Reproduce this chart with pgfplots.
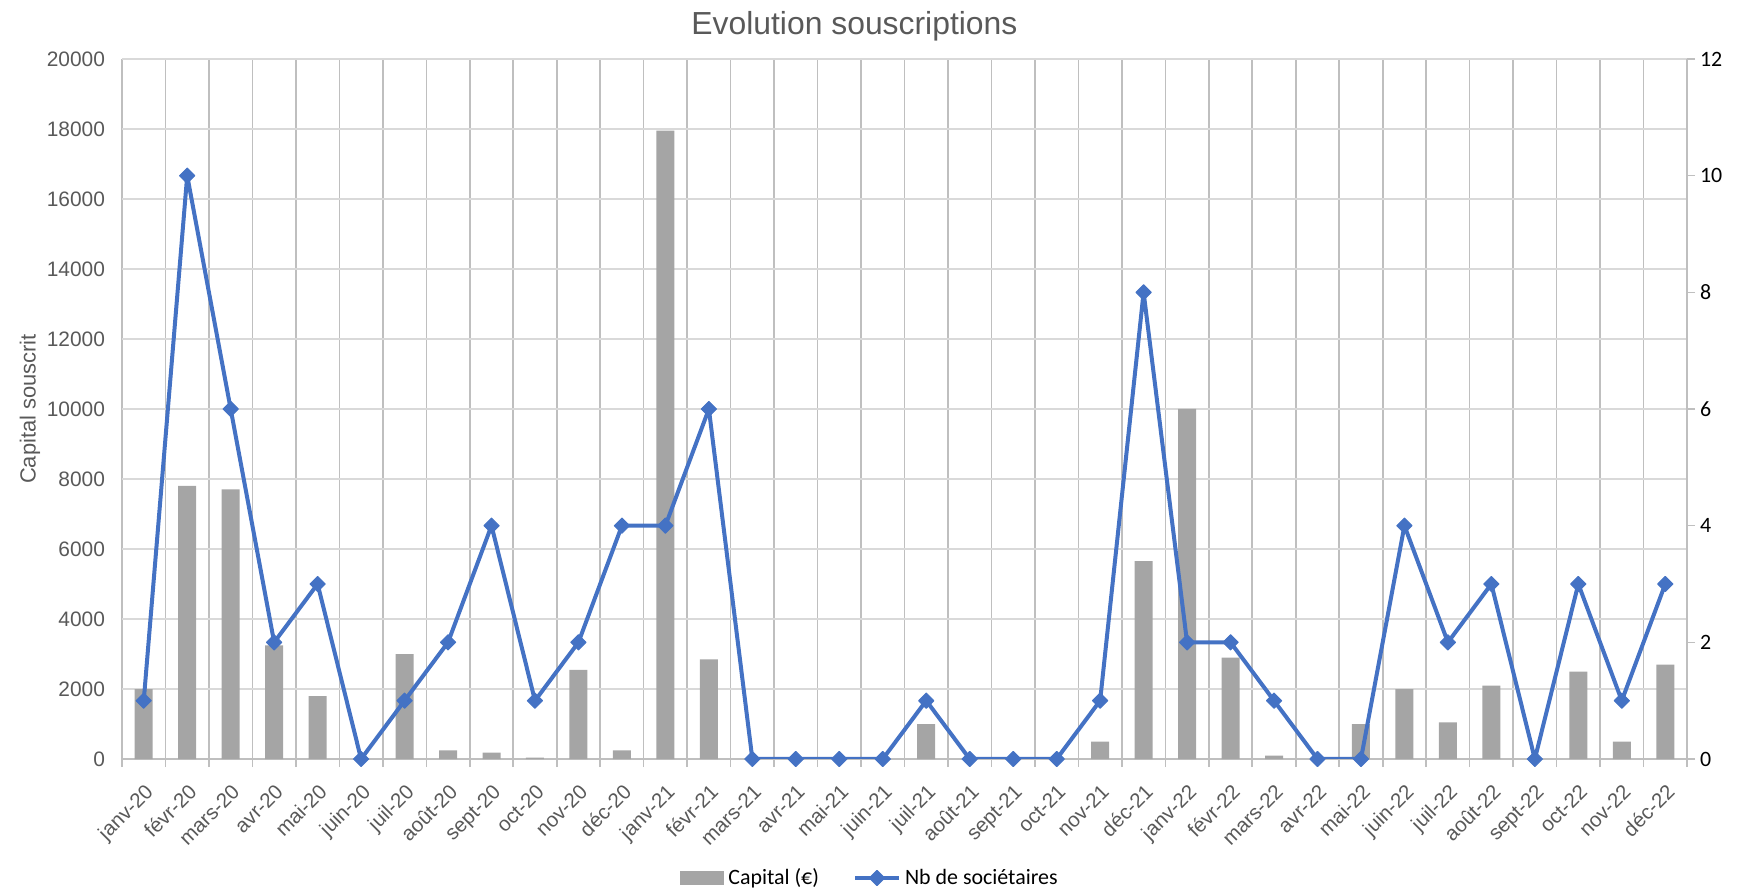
\documentclass[border=0pt]{standalone}
\usepackage{pgfplots}
\pgfplotsset{compat=1.18}
\usepackage{pgfplotstable}
\usepackage{fontspec}
\setmainfont{Liberation Sans}
\newfontfamily\calibri{Carlito}

\definecolor{barc}{HTML}{A5A5A5}
\definecolor{linec}{HTML}{4472C4}
\definecolor{tickc}{HTML}{595959}
\definecolor{gridh}{HTML}{D9D9D9}
\definecolor{gridv}{HTML}{BFBFBF}

% idx = month index from janv-20
\pgfplotstableread{
idx capital nb
0  2000  1
1  7800  10
2  7700  6
3  3250  2
4  1800  3
5  0     0
6  3000  1
7  250   2
8  180   4
9  40    1
10 2550  2
11 250   4
12 17950 4
13 2850  6
14 0     0
15 0     0
16 0     0
17 0     0
18 1000  1
19 0     0
20 0     0
21 0     0
22 500   1
23 5650  8
24 10000 2
25 2900  2
26 100   1
27 0     0
28 1000  0
29 2000  4
30 1050  2
31 2100  3
32 0     0
33 2500  3
34 500   1
35 2700  3
}\data

\pgfplotsset{
  common/.style={
    at={(0,0)}, anchor=south west,
    scale only axis, width=782.5bp, height=350bp,
    xmin=-0.5, xmax=35.5,
  },
  nbline/.style={linec, line width=2bp, line join=round, mark=square*, mark size=2.7bp,
    mark options={rotate=45, line width=0.5bp}},
  barlegend/.style={legend image code/.code={\fill[barc] (0bp,-3.5bp) rectangle (22bp,3.5bp);}},
  linelegend/.style={legend image code/.code={\draw[mark repeat=2, mark phase=2, ##1] plot coordinates {(0bp,0bp) (11bp,0bp) (22bp,0bp)};}},
}

\begin{document}
\begin{tikzpicture}
\path[use as bounding box] (-61bp,-64.5bp) rectangle (809bp,379.5bp);
\begin{axis}[
  common,
  ymin=0, ymax=20000,
  ytick={0,2000,...,20000},
  xtick={0,...,35},
  xticklabels={janv-20,févr-20,mars-20,avr-20,mai-20,juin-20,juil-20,août-20,sept-20,oct-20,nov-20,déc-20,
               janv-21,févr-21,mars-21,avr-21,mai-21,juin-21,juil-21,août-21,sept-21,oct-21,nov-21,déc-21,
               janv-22,févr-22,mars-22,avr-22,mai-22,juin-22,juil-22,août-22,sept-22,oct-22,nov-22,déc-22},
  minor xtick={-0.5,0.5,...,35.5},
  xminorgrids, ymajorgrids,
  minor grid style={draw=gridv, line width=0.8bp},
  major grid style={draw=gridh, line width=0.8bp},
  axis x line*=bottom, axis y line*=left,
  x axis line style={draw=gridv, line width=0.8bp},
  y axis line style={draw=none},
  tick align=outside,
  major tick length=0pt, minor tick length=4bp,
  minor tick style={draw=gridv, line width=0.8bp},
  /pgf/number format/assume math mode=true,
  scaled y ticks=false,
  yticklabel={\pgfmathprintnumber[fixed,1000 sep={}]{\tick}},
  yticklabel style={font=\fontsize{10.5}{12}\selectfont, text=tickc, xshift=-5bp},
  xticklabel shift=7bp,
  xticklabel style={font=\fontsize{10.3}{12}\selectfont, text=tickc, rotate=45, anchor=north east},
  ylabel={Capital souscrit},
  ylabel style={at={(axis description cs:-0.0588,0.5)}, anchor=center, font=\fontsize{11}{13}\selectfont, text=tickc},
  title={Evolution souscriptions},
  title style={at={(0.468,1)}, anchor=base, yshift=6.5bp, font=\fontsize{16}{19}\selectfont, text=tickc},
  legend style={at={(0.4786,-0.17)}, anchor=center, draw=none, legend columns=-1,
    font=\calibri\fontsize{11}{13}\selectfont,
    /tikz/every even column/.append style={column sep=15bp}},
]
\addplot[ybar, bar width=9bp, fill=barc, draw=none, barlegend]
  table[x=idx, y=capital]{\data};
\addlegendentry{Capital (€)}
\addlegendimage{nbline, linelegend}
\addlegendentry{Nb de sociétaires}
\end{axis}

\begin{axis}[
  common,
  ymin=0, ymax=12,
  ytick={0,2,...,12},
  axis x line=none,
  axis y line*=right,
  y axis line style={draw=gridv, line width=0.8bp},
  tick align=outside,
  major tick length=4bp,
  ytick style={draw=gridv, line width=0.8bp},
  /pgf/number format/assume math mode=true,
  yticklabel style={font=\calibri\fontsize{11}{13}\selectfont, text=black, xshift=-1bp},
]
\addplot[nbline] table[x=idx, y=nb]{\data};
\end{axis}
\end{tikzpicture}
\end{document}
